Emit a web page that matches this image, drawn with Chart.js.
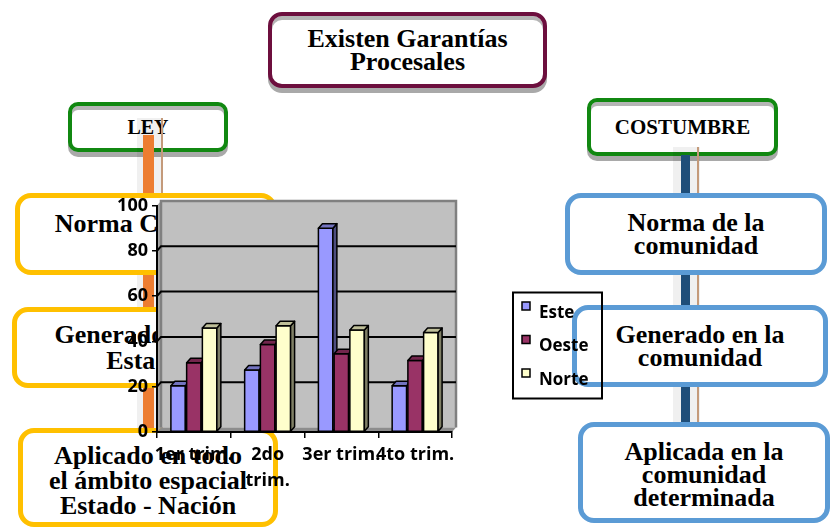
<!DOCTYPE html>
<html>
<head>
<meta charset="utf-8">
<script src="https://cdn.jsdelivr.net/npm/chart.js@4.4.1/dist/chart.umd.min.js"></script>
<style>
  html, body { margin: 0; padding: 0; background: #fff; }
  body { width: 831px; height: 530px; position: relative; overflow: hidden; }
  .box {
    position: absolute; box-sizing: border-box; background: #fff;
    display: flex; align-items: center; justify-content: center; text-align: center;
    font-family: "Liberation Serif", "Times New Roman", serif; font-weight: bold; color: #000;
  }
  .top { z-index: 1; box-shadow: 0 5px 0 #a9a9a9, inset 0 4px 0 #b5b5b5; }
  .yel { border: 5px solid #ffc000; border-radius: 16px; z-index: 3; font-size: 26px; line-height: 25px; }
  .blu { border: 5px solid #5b9bd5; border-radius: 16px; z-index: 3; font-size: 26px; line-height: 23px; }
  .bar { position: absolute; z-index: 2; }
  #chartWrap { position: absolute; left: 100px; top: 180px; width: 520px; height: 330px; z-index: 4; }
  #grafico { display: block; width: 520px; height: 330px; }
</style>
</head>
<body>
<div class="box top" style="left:268px;top:12px;width:279px;height:76px;border:4px solid #6d0f3e;border-radius:14px;font-size:26px;line-height:23px;">Existen Garantías<br>Procesales</div>
<div class="box top" style="left:68px;top:102px;width:160px;height:50px;border:4px solid #118811;border-radius:10px;font-size:20px;">LEY</div>
<div class="box top" style="left:587px;top:98px;width:191px;height:58px;border:4px solid #118811;border-radius:10px;font-size:21px;">COSTUMBRE</div>

<div class="bar" style="left:137px;top:118px;width:26px;height:314px;background:rgba(0,0,0,0.06);"></div>
<div class="bar" style="left:143px;top:135px;width:11px;height:297px;background:#ed7d31;"></div>
<div class="bar" style="left:161px;top:118px;width:2px;height:314px;background:#c49a7a;"></div>
<div class="bar" style="left:673px;top:147px;width:27px;height:276px;background:rgba(0,0,0,0.06);"></div>
<div class="bar" style="left:681px;top:155px;width:9px;height:268px;background:#1f4e79;"></div>
<div class="bar" style="left:697px;top:147px;width:2px;height:276px;background:#c49a7a;"></div>

<div class="box yel" style="left:15px;top:193px;width:262px;height:82px;align-items:flex-start;padding-top:13px;">Norma Coactiva</div>
<div class="box yel" style="left:12px;top:307px;width:265px;height:81px;line-height:26px;">Generado por el<br>Estado</div>
<div class="box yel" style="left:18px;top:428px;width:260px;height:99px;padding-top:6px;">Aplicado en todo<br>el ámbito espacial<br>Estado - Nación</div>

<div class="box blu" style="left:565px;top:193px;width:262px;height:82px;">Norma de la<br>comunidad</div>
<div class="box blu" style="left:572px;top:305px;width:256px;height:82px;">Generado en la<br>comunidad</div>
<div class="box blu" style="left:578px;top:422px;width:252px;height:101px;padding-top:4px;">Aplicada en la<br>comunidad<br>determinada</div>

<div id="chartWrap"><canvas id="grafico" width="520" height="330"></canvas></div>

<script>
const categorias = ['1er trim.', ['2do', 'trim.'], '3er trim.', '4to trim.']
const series = ['Este', 'Oeste', 'Norte']
const valoresEste = [20.4, 27.4, 90, 20.4]
const valoresOeste = [30.6, 38.6, 34.6, 31.6]
const valoresNorte = [45.9, 46.9, 45, 43.9]
const ticksY = [0, 20, 40, 60, 80, 100]
const colores = ['#9999ff', '#993366', '#ffffcc']

const fondo = { dx: 4, dy: 4.5 }
const fuente = "'Open Sans'"

const oscurecer = (hex, f) => {
    const n = parseInt(hex.slice(1), 16)
    const r = Math.round(((n >> 16) & 255) * f)
    const g = Math.round(((n >> 8) & 255) * f)
    const b = Math.round((n & 255) * f)
    return `rgb(${r},${g},${b})`
}

// paredes, piso y lineas de la grilla (antes que los ejes)
const paredes = {
    id: 'paredes',
    beforeDraw(chart) {
        const { ctx, chartArea: a, scales } = chart
        const { dx, dy } = fondo
        ctx.save()
        ctx.fillStyle = '#c0c0c0'
        ctx.fillRect(a.left + dx, a.top - dy, a.width, a.height)
        ctx.fillStyle = '#a6a6a6'
        ctx.beginPath()
        ctx.moveTo(a.left, a.top)
        ctx.lineTo(a.left + dx, a.top - dy)
        ctx.lineTo(a.left + dx, a.bottom - dy)
        ctx.lineTo(a.left, a.bottom)
        ctx.closePath()
        ctx.fill()
        // piso
        ctx.fillStyle = '#8c8c8c'
        ctx.beginPath()
        ctx.moveTo(a.left, a.bottom)
        ctx.lineTo(a.left + dx, a.bottom - dy)
        ctx.lineTo(a.right + dx, a.bottom - dy)
        ctx.lineTo(a.right, a.bottom)
        ctx.closePath()
        ctx.fill()
        ctx.strokeStyle = '#808080'
        ctx.lineWidth = 2.5
        ctx.beginPath()
        ctx.moveTo(a.left + dx, a.bottom - dy)
        ctx.lineTo(a.left + dx, a.top - dy)
        ctx.lineTo(a.right + dx, a.top - dy)
        ctx.lineTo(a.right + dx, a.bottom - dy)
        ctx.stroke()
        // grilla
        ctx.strokeStyle = '#000'
        ctx.lineWidth = 2
        ticksY.slice(1, -1).forEach(v => {
            const y = scales.y.getPixelForValue(v)
            ctx.beginPath()
            ctx.moveTo(a.left, y)
            ctx.lineTo(a.left + dx, y - dy)
            ctx.lineTo(a.right + dx, y - dy)
            ctx.stroke()
        })
        ctx.restore()
    }
}

// barras en 3D dibujadas en orden de serie
const barras3d = {
    id: 'barras3d',
    afterDatasetsDraw(chart) {
        const { ctx } = chart
        const { dx, dy } = fondo
        ctx.save()
        ctx.strokeStyle = '#000'
        ctx.lineWidth = 1.5
        ctx.lineJoin = 'round'
        chart.data.datasets.forEach((ds, i) => {
            const meta = chart.getDatasetMeta(i)
            meta.data.forEach(bar => {
                const { x, y, base, width } = bar.getProps(['x', 'y', 'base', 'width'], true)
                const l = x - width / 2
                const r = x + width / 2
                ctx.fillStyle = ds.backgroundColor
                ctx.fillRect(l, y, width, base - y)
                ctx.strokeRect(l, y, width, base - y)
                // lado
                ctx.fillStyle = oscurecer(ds.backgroundColor, 0.5)
                ctx.beginPath()
                ctx.moveTo(r, y)
                ctx.lineTo(r + dx, y - dy)
                ctx.lineTo(r + dx, base - dy)
                ctx.lineTo(r, base)
                ctx.closePath()
                ctx.fill()
                ctx.stroke()
                // techo
                ctx.fillStyle = oscurecer(ds.backgroundColor, 0.75)
                ctx.beginPath()
                ctx.moveTo(l, y)
                ctx.lineTo(l + dx, y - dy)
                ctx.lineTo(r + dx, y - dy)
                ctx.lineTo(r, y)
                ctx.closePath()
                ctx.fill()
                ctx.stroke()
            })
        })
        ctx.restore()
    }
}

// leyenda con marco, a la derecha
const leyenda = {
    id: 'leyenda',
    afterDraw(chart) {
        const { ctx, chartArea: a } = chart
        const lx = a.right + 61
        const ly = a.top + 87
        ctx.save()
        ctx.strokeStyle = '#000'
        ctx.lineWidth = 2
        ctx.strokeRect(lx, ly, 89, 106)
        ctx.font = `bold 17px ${fuente}`
        ctx.textBaseline = 'middle'
        chart.data.datasets.forEach((ds, i) => {
            const cy = ly + 20.5 + i * 33.5
            ctx.fillStyle = ds.backgroundColor
            ctx.fillRect(lx + 9, cy - 11, 8, 8)
            ctx.lineWidth = 1.5
            ctx.strokeRect(lx + 9, cy - 11, 8, 8)
            ctx.fillStyle = '#000'
            ctx.fillText(ds.label, lx + 26, cy)
        })
        ctx.restore()
    }
}

const grafico = new Chart(document.getElementById('grafico'), {
    type: 'bar',
    data: {
        labels: categorias,
        datasets: [
            { label: series[0], data: valoresEste, backgroundColor: colores[0] },
            { label: series[1], data: valoresOeste, backgroundColor: colores[1] },
            { label: series[2], data: valoresNorte, backgroundColor: colores[2] }
        ]
    },
    options: {
        responsive: false,
        animation: false,
        maintainAspectRatio: false,
        devicePixelRatio: 1,
        categoryPercentage: 0.64,
        barPercentage: 0.92,
        borderColor: '#000',
        borderWidth: 1.5,
        layout: { padding: { top: 25.5, right: 168, bottom: 8, left: 0 } },
        plugins: { legend: { display: false }, tooltip: { enabled: false } },
        scales: {
            x: {
                afterFit: (s) => { s.height = 70 },
                grid: { drawOnChartArea: false, drawTicks: true, tickLength: 6, color: '#000', lineWidth: 1.5 },
                border: { color: '#000', width: 2 },
                ticks: {
                    color: '#000', padding: 4, maxRotation: 0, autoSkip: false,
                    font: { family: fuente, weight: 'bold', size: 18, lineHeight: 1.45 }
                }
            },
            y: {
                min: ticksY[0],
                max: ticksY[ticksY.length - 1],
                afterFit: (s) => { s.width = 57 },
                afterBuildTicks: (s) => { s.ticks = ticksY.map(v => ({ value: v })) },
                grid: { drawOnChartArea: false, drawTicks: true, tickLength: 5, color: '#000', lineWidth: 1.5 },
                border: { color: '#000', width: 2 },
                ticks: {
                    color: '#000', padding: 4,
                    font: { family: fuente, weight: 'bold', size: 18 }
                }
            }
        }
    },
    plugins: [paredes, barras3d, leyenda]
})
</script>
</body>
</html>
